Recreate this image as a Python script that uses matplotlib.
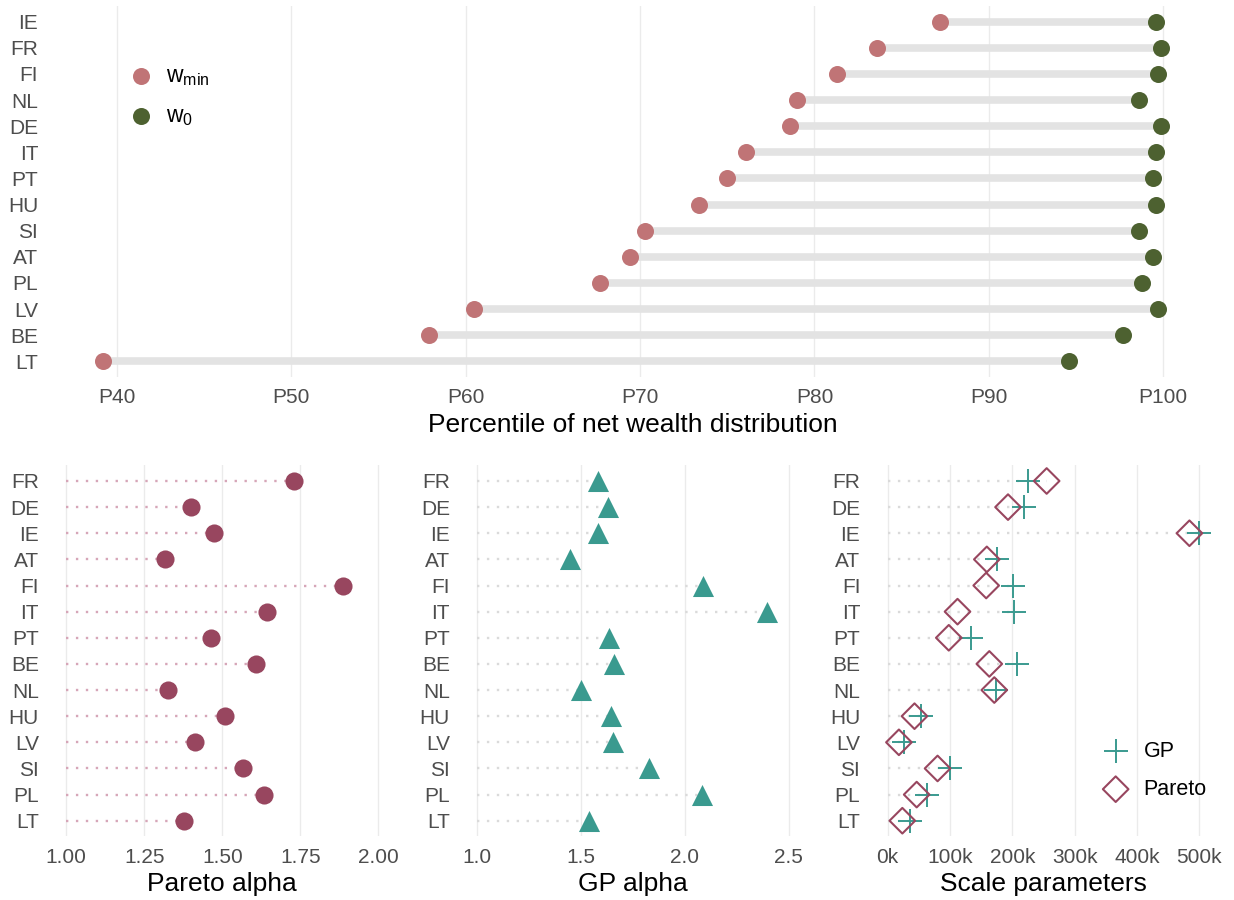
import matplotlib
matplotlib.use("Agg")
import matplotlib.pyplot as plt
import numpy as np

plt.rcParams['font.family'] = ['Liberation Sans', 'DejaVu Sans']
plt.rcParams['mathtext.fontset'] = 'custom'
plt.rcParams['mathtext.rm'] = 'Liberation Sans'

# ---- Top panel data (ordered top -> bottom) ----
top_countries = ["IE", "FR", "FI", "NL", "DE", "IT", "PT", "HU", "SI", "AT", "PL", "LV", "BE", "LT"]
w_min = [87.2, 83.6, 81.3, 79.0, 78.6, 76.1, 75.0, 73.4, 70.3, 69.4, 67.7, 60.5, 57.9, 39.2]
w_0 = [99.6, 99.9, 99.7, 98.6, 99.9, 99.6, 99.4, 99.6, 98.6, 99.4, 98.8, 99.7, 97.7, 94.6]
top_ticks = [40, 50, 60, 70, 80, 90, 100]
top_ticklabels = ["P40", "P50", "P60", "P70", "P80", "P90", "P100"]

# ---- Bottom panels data (ordered top -> bottom) ----
bot_countries = ["FR", "DE", "IE", "AT", "FI", "IT", "PT", "BE", "NL", "HU", "LV", "SI", "PL", "LT"]
pareto_alpha = [1.729, 1.400, 1.472, 1.315, 1.886, 1.643, 1.465, 1.609, 1.326, 1.507, 1.411, 1.565, 1.634, 1.377]
gp_alpha = [1.581, 1.628, 1.581, 1.448, 2.087, 2.395, 1.636, 1.658, 1.502, 1.642, 1.655, 1.827, 2.083, 1.539]
gp_scale = [225e3, 218e3, 499e3, 175e3, 201e3, 202e3, 134e3, 208e3, 173e3, 53.5e3, 26.7e3, 100e3, 62.6e3, 36.4e3]
pareto_scale = [255e3, 193e3, 484e3, 159e3, 158e3, 112e3, 98e3, 163e3, 171e3, 43e3, 18e3, 80e3, 46.5e3, 23.5e3]

pareto_ticks = [1.00, 1.25, 1.50, 1.75, 2.00]
gp_ticks = [1.0, 1.5, 2.0, 2.5]
scale_ticks = [0, 100e3, 200e3, 300e3, 400e3, 500e3]
scale_ticklabels = ["0k", "100k", "200k", "300k", "400k", "500k"]

# ---- colours ----
C_WMIN = "#C07476"
C_W0 = "#4D6130"
C_SEG = "#E3E3E3"
C_PARETO = "#98465F"
C_GP = "#3A9A8F"
C_GRID = "#EBEBEB"
C_TICK = "#4D4D4D"

W, H = 1234, 900
fig = plt.figure(figsize=(W / 100, H / 100), dpi=100)


def px_axes(l, r, t, b):
    return fig.add_axes([l / W, 1 - b / H, (r - l) / W, (b - t) / H])


def style(ax, xticks, xlabels, ylabels, title, tick_fs=15):
    for s in ax.spines.values():
        s.set_visible(False)
    ax.set_xticks(xticks)
    ax.set_xticklabels(xlabels)
    n = len(ylabels)
    ax.set_yticks(np.arange(n))
    ax.set_yticklabels(ylabels)
    ax.set_ylim(n - 0.4, -0.6)
    ax.tick_params(axis='both', length=0, labelsize=tick_fs, labelcolor=C_TICK)
    ax.tick_params(axis='y', pad=8.5)
    ax.tick_params(axis='x', pad=8)
    ax.grid(axis='x', color=C_GRID, linewidth=1.0)
    ax.grid(axis='y', visible=False)
    ax.set_axisbelow(True)
    ax.set_xlabel(title, fontsize=19, color='black', labelpad=4)


# ---- Top panel ----
ax0 = px_axes(50, 1215, 6, 377)
yt = np.arange(len(top_countries))
ax0.hlines(yt, w_min, w_0, color=C_SEG, linewidth=5.5, zorder=1)
ax0.scatter(w_min, yt, s=150, color=C_WMIN, zorder=3, linewidths=0, label=r'w$_{\mathregular{min}}$')
ax0.scatter(w_0, yt, s=150, color=C_W0, zorder=3, linewidths=0, label=r'w$_{\mathregular{0}}$')
ax0.set_xlim(36.16, 102.97)
style(ax0, top_ticks, top_ticklabels, top_countries, "Percentile of net wealth distribution")
ax0.legend(loc='upper left', bbox_to_anchor=(118 / W, 1 - 55 / H), bbox_transform=fig.transFigure,
           frameon=False, fontsize=16.5, handletextpad=0.5, labelspacing=0.68, borderaxespad=0,
           handlelength=1.2, markerscale=1.0)

yb = np.arange(len(bot_countries))
dots = (0, (1, 3.2))

# ---- Pareto alpha ----
ax1 = px_axes(50.7, 394, 465.3, 836.4)
ax1.hlines(yb, 1.0, pareto_alpha, color="#D6A6B8", linewidth=1.7, linestyle=dots, zorder=1)
ax1.scatter(pareto_alpha, yb, s=170, color=C_PARETO, zorder=3, linewidths=0)
ax1.set_xlim(0.95, 2.05)
style(ax1, pareto_ticks, ["%.2f" % v for v in pareto_ticks], bot_countries, "Pareto alpha")

# ---- GP alpha ----
ax2 = px_axes(461.7, 804.2, 465.3, 836.4)
ax2.hlines(yb, 1.0, gp_alpha, color="#DADADA", linewidth=1.7, linestyle=dots, zorder=1)
ax2.scatter(gp_alpha, yb, s=230, marker='^', color=C_GP, zorder=3, linewidths=0)
ax2.set_xlim(0.925, 2.575)
style(ax2, gp_ticks, ["%.1f" % v for v in gp_ticks], bot_countries, "GP alpha")

# ---- Scale parameters ----
ax3 = px_axes(872.1, 1215, 465.3, 836.4)
ax3.hlines(yb, 0, np.maximum(gp_scale, pareto_scale), color="#DADADA", linewidth=1.7,
           linestyle=dots, zorder=1)
ax3.scatter(gp_scale, yb, s=320, marker='+', color=C_GP, zorder=3, linewidths=1.4, label='GP')
ax3.scatter(pareto_scale, yb, s=170, marker='D', facecolors='none', edgecolors=C_PARETO,
            zorder=4, linewidths=1.5, label='Pareto')
ax3.set_xlim(-25e3, 525e3)
style(ax3, scale_ticks, scale_ticklabels, bot_countries, "Scale parameters")
ax3.legend(loc='upper left', bbox_to_anchor=(1092 / W, 1 - 732 / H), bbox_transform=fig.transFigure,
           frameon=False, fontsize=15.5, handletextpad=0.6, labelspacing=0.8, borderaxespad=0,
           handlelength=1.4)

fig.savefig("out.png", dpi=100)
